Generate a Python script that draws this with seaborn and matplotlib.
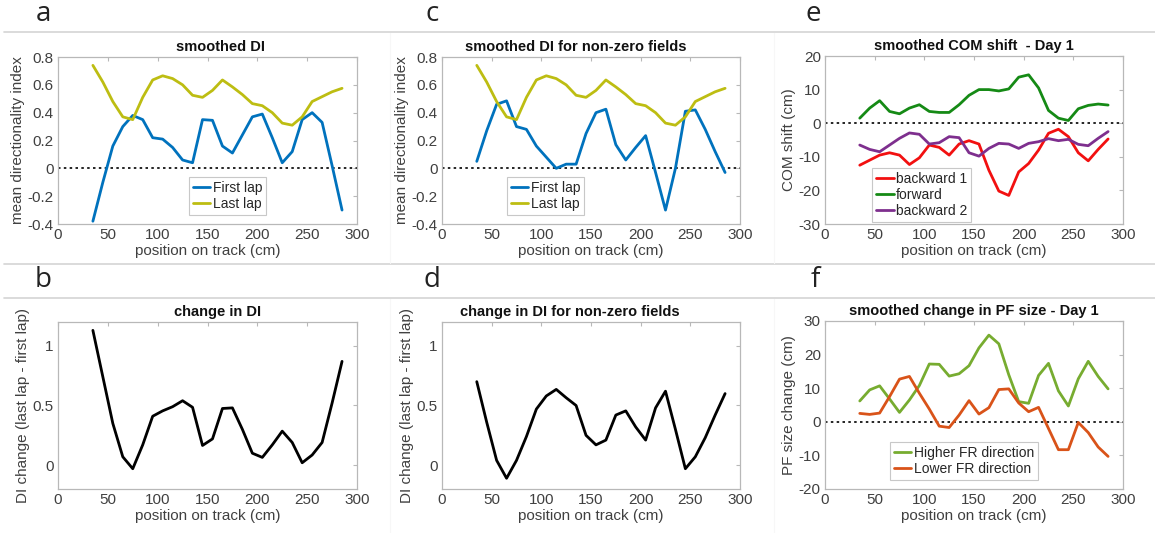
import numpy as np
import pandas as pd
import matplotlib
matplotlib.use("Agg")
import matplotlib.pyplot as plt
import seaborn as sns
from matplotlib.lines import Line2D

# ---------------- data ----------------
position = [35, 45, 55, 65, 75, 85, 95, 105, 115, 125, 135, 145, 155,
            165, 175, 185, 195, 205, 215, 225, 235, 245, 255, 265, 275, 285]

a_first = [-0.38, -0.10, 0.16, 0.30, 0.38, 0.35, 0.22, 0.21, 0.15, 0.06, 0.04, 0.35, 0.345,
           0.16, 0.11, 0.24, 0.37, 0.39, 0.22, 0.04, 0.12, 0.35, 0.40, 0.33, 0.02, -0.30]
a_last = [0.74, 0.62, 0.48, 0.37, 0.35, 0.51, 0.635, 0.665, 0.645, 0.60, 0.525, 0.51, 0.56,
          0.635, 0.585, 0.53, 0.465, 0.45, 0.40, 0.325, 0.31, 0.37, 0.48, 0.515, 0.55, 0.575]

c_first = [0.05, 0.27, 0.46, 0.485, 0.30, 0.28, 0.16, 0.08, 0.0, 0.03, 0.03, 0.25, 0.40,
           0.425, 0.17, 0.06, 0.15, 0.235, -0.03, -0.30, 0.0, 0.41, 0.42, 0.28, 0.12, -0.03]
c_last = [0.74, 0.62, 0.48, 0.37, 0.35, 0.51, 0.635, 0.665, 0.645, 0.60, 0.525, 0.51, 0.56,
          0.635, 0.585, 0.53, 0.465, 0.45, 0.40, 0.325, 0.31, 0.37, 0.48, 0.515, 0.55, 0.575]

b_change = [1.13, 0.74, 0.35, 0.07, -0.03, 0.17, 0.41, 0.455, 0.49, 0.54, 0.485, 0.165, 0.22,
            0.475, 0.48, 0.30, 0.10, 0.065, 0.17, 0.285, 0.19, 0.02, 0.085, 0.19, 0.52, 0.87]
d_change = [0.70, 0.36, 0.04, -0.11, 0.04, 0.24, 0.47, 0.58, 0.635, 0.565, 0.50, 0.25, 0.17,
            0.21, 0.42, 0.455, 0.32, 0.21, 0.48, 0.62, 0.30, -0.03, 0.07, 0.23, 0.42, 0.60]

e_backward1 = [-12.5, -11.0, -9.5, -8.8, -9.5, -12.3, -10.3, -6.5, -7.2, -9.5, -6.2, -5.2, -6.2,
               -14.0, -20.2, -21.5, -14.5, -12.0, -8.0, -3.0, -1.8, -4.0, -8.8, -11.2, -7.8, -4.7]
e_forward = [1.5, 4.5, 6.7, 3.5, 2.8, 4.5, 5.5, 3.5, 3.2, 3.2, 5.5, 8.3, 10.0,
             10.0, 9.6, 10.2, 13.7, 14.4, 10.5, 3.8, 1.5, 0.8, 4.3, 5.3, 5.7, 5.4]
e_backward2 = [-6.5, -7.8, -8.5, -6.5, -4.5, -2.9, -3.3, -6.2, -5.8, -4.0, -4.3, -8.8, -9.8,
               -7.5, -6.0, -6.2, -7.5, -6.0, -5.5, -4.6, -5.2, -4.8, -6.3, -6.7, -4.5, -2.5]

f_higher = [6.2, 9.5, 10.7, 6.8, 2.8, 6.5, 10.8, 17.2, 17.1, 13.6, 14.3, 16.7, 22.0,
            25.8, 23.2, 14.0, 6.0, 5.5, 13.8, 17.4, 9.2, 4.7, 12.8, 18.0, 13.5, 9.8]
f_lower = [2.5, 2.2, 2.6, 7.5, 12.7, 13.5, 8.5, 3.8, -1.3, -1.7, 2.0, 6.3, 2.3,
           4.2, 9.6, 9.8, 5.6, 3.0, 4.3, -2.0, -8.3, -8.3, -0.2, -3.2, -7.5, -10.3]

x_ticks = [0, 50, 100, 150, 200, 250, 300]
di_ticks = [-0.4, -0.2, 0, 0.2, 0.4, 0.6, 0.8]
di_ticklabels = ["-0.4", "-0.2", "0", "0.2", "0.4", "0.6", "0.8"]
change_ticks = [0, 0.5, 1]
change_ticklabels = ["0", "0.5", "1"]
com_ticks = [-30, -20, -10, 0, 10, 20]
pf_ticks = [-20, -10, 0, 10, 20, 30]

# ---------------- style ----------------
sns.set_theme(style="white")
plt.rcParams['font.family'] = ['Liberation Sans', 'DejaVu Sans']

W, H = 1155, 533
fig = plt.figure(figsize=(W / 100, H / 100), dpi=100)

TXT = "#262626"
FRAME = "#b8b8b8"


def make_ax(l, r, t, b):
    return fig.add_axes([l / W, 1 - b / H, (r - l) / W, (b - t) / H])


def style_ax(ax, title, title_x, ylabel, yticks, yticklabels, ylim):
    ax.set_xlim(0, 300)
    ax.set_ylim(*ylim)
    ax.set_xticks(x_ticks)
    ax.set_xticklabels([str(v) for v in x_ticks])
    ax.set_yticks(yticks)
    ax.set_yticklabels(yticklabels)
    ax.tick_params(direction="in", length=3, width=0.8, color=FRAME,
                   top=True, right=True, labelsize=11, labelcolor="#404040", pad=3)
    for s in ax.spines.values():
        s.set_color(FRAME)
        s.set_linewidth(0.9)
    ax.set_title(title, fontsize=10.5, fontweight="bold", color="#111111", pad=4, x=title_x)
    ax.set_xlabel("position on track (cm)", fontsize=11, color="#404040", labelpad=1)
    ax.set_ylabel(ylabel, fontsize=11, color="#404040", labelpad=2)


def legend(ax, x, y):
    leg = ax.legend(loc="upper left", bbox_to_anchor=(x, y), borderaxespad=0,
                    fontsize=10, handlelength=1.25, handletextpad=0.15,
                    borderpad=0.3, labelspacing=0.12, fancybox=False,
                    framealpha=1, edgecolor="#c8c8c8")
    leg.get_frame().set_linewidth(0.8)
    for t in leg.get_texts():
        t.set_color(TXT)


def zero_line(ax):
    ax.axhline(0, color="black", linestyle=(0, (1.5, 2)), linewidth=1.2, zorder=1)


LW = 2.0
BLUE = "#0072BD"
YEL = "#BDBD12"

# panel a
ax = make_ax(58, 357, 57, 224)
zero_line(ax)
sns.lineplot(x=position, y=a_first, color=BLUE, linewidth=LW, label="First lap", ax=ax)
sns.lineplot(x=position, y=a_last, color=YEL, linewidth=LW, label="Last lap", ax=ax)
style_ax(ax, "smoothed DI", 0.542, "mean directionality index", di_ticks, di_ticklabels, (-0.4, 0.8))
legend(ax, 0.438, 0.281)

# panel c
ax = make_ax(442, 740, 57, 224)
zero_line(ax)
sns.lineplot(x=position, y=c_first, color=BLUE, linewidth=LW, label="First lap", ax=ax)
sns.lineplot(x=position, y=c_last, color=YEL, linewidth=LW, label="Last lap", ax=ax)
style_ax(ax, "smoothed DI for non-zero fields", 0.448, "mean directionality index",
         di_ticks, di_ticklabels, (-0.4, 0.8))
legend(ax, 0.218, 0.281)

# panel e
ax = make_ax(825, 1123, 56, 224)
zero_line(ax)
sns.lineplot(x=position, y=e_backward1, color="#F21010", linewidth=LW, label="backward 1", ax=ax)
sns.lineplot(x=position, y=e_forward, color="#158A15", linewidth=LW, label="forward", ax=ax)
sns.lineplot(x=position, y=e_backward2, color="#7E2F8E", linewidth=LW, label="backward 2", ax=ax)
style_ax(ax, "smoothed COM shift  - Day 1", 0.5, "COM shift (cm)",
         com_ticks, [str(v) for v in com_ticks], (-30, 20))
legend(ax, 0.158, 0.333)

# panel b
ax = make_ax(58, 357, 322, 489)
sns.lineplot(x=position, y=b_change, color="black", linewidth=LW, ax=ax, legend=False)
style_ax(ax, "change in DI", 0.533, "DI change (last lap - first lap)",
         change_ticks, change_ticklabels, (-0.2, 1.2))

# panel d
ax = make_ax(442, 740, 322, 489)
sns.lineplot(x=position, y=d_change, color="black", linewidth=LW, ax=ax, legend=False)
style_ax(ax, "change in DI for non-zero fields", 0.428, "DI change (last lap - first lap)",
         change_ticks, change_ticklabels, (-0.2, 1.2))

# panel f
ax = make_ax(825, 1123, 321, 489)
zero_line(ax)
sns.lineplot(x=position, y=f_higher, color="#77AC30", linewidth=LW, label="Higher FR direction", ax=ax)
sns.lineplot(x=position, y=f_lower, color="#D95319", linewidth=LW, label="Lower FR direction", ax=ax)
style_ax(ax, "smoothed change in PF size - Day 1", 0.5, "PF size change (cm)",
         pf_ticks, [str(v) for v in pf_ticks], (-20, 30))
legend(ax, 0.218, 0.28)

# panel letters
for letter, px, py in [("a", 43, 14), ("c", 432, 14), ("e", 813, 14),
                       ("b", 43, 280), ("d", 432, 280), ("f", 815, 280)]:
    fig.text(px / W, 1 - py / H, letter, fontsize=20, color="#222222",
             ha="center", va="center", family=["Open Sans", "DejaVu Sans"])

# separator lines
for yy in (32, 264, 298):
    fig.add_artist(Line2D([4 / W, 1], [1 - yy / H, 1 - yy / H], color="#d4d4d4",
                          linewidth=1.2, transform=fig.transFigure))
for xx in (390, 774):
    fig.add_artist(Line2D([xx / W, xx / W], [1 - 33 / H, 1 - 263 / H], color="#f7f7f7",
                          linewidth=0.8, transform=fig.transFigure))
    fig.add_artist(Line2D([xx / W, xx / W], [1 - 299 / H, 0], color="#f7f7f7",
                          linewidth=0.8, transform=fig.transFigure))

fig.savefig("out.png", dpi=100, facecolor="white")
